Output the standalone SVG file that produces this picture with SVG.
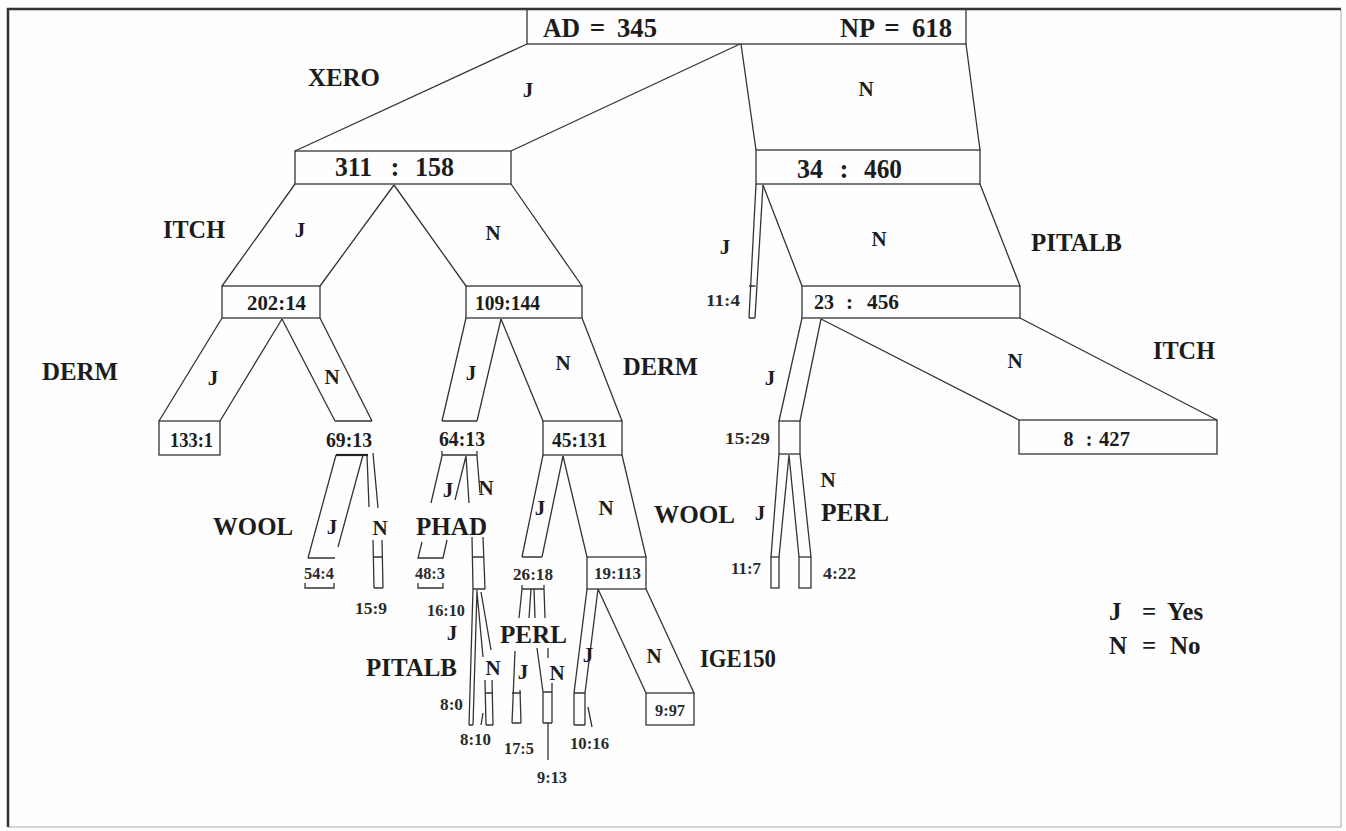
<svg xmlns="http://www.w3.org/2000/svg" width="1346" height="831" viewBox="0 0 1346 831">
<style>
.bg{fill:#fefefe}
.frame{stroke:#333;stroke-width:2.5;fill:none}
.frame2{stroke:#c8c8c8;stroke-width:1.5;fill:none}
.box{fill:none;stroke:#333;stroke-width:1.3}
.ln{fill:none;stroke:#333;stroke-width:1.3}
.thk{fill:none;stroke:#222;stroke-width:2.2}
text{font-family:"Liberation Serif","Times New Roman",serif;font-weight:bold;fill:#1c1c1c;text-anchor:middle}
.attr{font-size:25px}
.yn{font-size:21px}
.big{font-size:27px}
.cnt{font-size:21px}
.mid{font-size:21px}
.sm{font-size:16px;fill:#2a2a2a}
.leg{font-size:25px;text-anchor:start}
</style>
<rect class="bg" x="0" y="0" width="1346" height="831"/>
<g id="frame">
<path class="frame2" d="M1341,9 L1341,827 L8,827"/>
<path class="frame" d="M8,827 L8,9 L1341,9"/>
</g>
<g id="connectors">
<path class="ln" d="M527,44 L295,151 M740,44 L511,151"/>
<path class="ln" d="M741,44 L756,150 M966,44 L980,150"/>
<path class="ln" d="M295,184 L222,286 M394,185 L320,286 M394,185 L466,286 M511,184 L582,286"/>
<path class="ln" d="M756,184 L749,318 M763,185 L755,318 M749,286 L755.5,286 M749,318 L755,318"/>
<path class="ln" d="M763,185 L802,286 M980,184 L1020,286"/>
<path class="ln" d="M802,318 L779,421 M821,319 L800,421 M821,319 L1019,420 M1020,318 L1217,420"/>
<path class="ln" d="M779,454 L771,557 M789,455 L779,557 M789,455 L799,557 M800,454 L811,557"/>
<path class="ln" d="M222,318 L159,421 M282,319 L220,421 M282,319 L335,421 M320,318 L372,421 M335,421 L372,421"/>
<path class="thk" d="M336,455 L368,455"/>
<path class="ln" d="M336,455 L308,558 M363,455 L338,547 M367,455 L369,507 M373,453 L378,508"/>
<path class="ln" d="M466,318 L442,421 M501,319 L477,421 M501,319 L543,421 M582,318 L622,421 M442,421 L477,421"/>
<path class="ln" d="M442,455 L477,455 M442,451 L442,456 M477,451 L477,456 M442,456 L431,503 M466,456 L455,500 M466,456 L469,503 M477,456 L480,493"/>
<path class="ln" d="M543,455 L522,557 M563,456 L542,557 M522,557 L542,557 M563,456 L587,557 M622,455 L646,557"/>
<path class="ln" d="M473,589 L469,725 M477,590 L473,725 M469,725 L473,725 M477,592 L483,657 M481,592 L491,650 M483,713 L481,725"/>
<path class="ln" d="M522,589 L544,589 M522,585 L522,589 M544,585 L544,589 M522,589 L519,618 M531,589 L529,618 M534,589 L535,618 M544,589 L545,618"/>
<path class="ln" d="M515,651 L512,723 M520,690 L521,723 M537,648 L543,692 M548,648 L548,658 M548,723 L548,760"/>
<path class="ln" d="M587,589 L574,693 M598,589 L585,693 M588,707 L592,727 M598,589 L646,693 M646,589 L694,693"/>
</g>
<g id="node-root">
<rect class="box" x="527" y="9" width="439" height="35"/>
<text class="big" x="561.5" y="37" textLength="37" lengthAdjust="spacingAndGlyphs">AD</text>
<text class="big" x="597.5" y="37">=</text>
<text class="big" x="637" y="37" textLength="40" lengthAdjust="spacingAndGlyphs">345</text>
<text class="big" x="857.5" y="37" textLength="35" lengthAdjust="spacingAndGlyphs">NP</text>
<text class="big" x="892" y="37">=</text>
<text class="big" x="932" y="37" textLength="40" lengthAdjust="spacingAndGlyphs">618</text>
</g>
<g id="node-311-158">
<rect class="box" x="295" y="151" width="216" height="33"/>
<text class="big" x="353.5" y="176" textLength="37" lengthAdjust="spacingAndGlyphs">311</text>
<text class="big" x="395" y="176">:</text>
<text class="big" x="434.5" y="176" textLength="39" lengthAdjust="spacingAndGlyphs">158</text>
</g>
<g id="node-34-460">
<rect class="box" x="756" y="150" width="224" height="34"/>
<text class="big" x="810" y="177.5" textLength="26" lengthAdjust="spacingAndGlyphs">34</text>
<text class="big" x="844" y="177.5">:</text>
<text class="big" x="883" y="177.5" textLength="38" lengthAdjust="spacingAndGlyphs">460</text>
</g>
<g id="node-202-14">
<rect class="box" x="222" y="286" width="98" height="32"/>
<text class="cnt" x="276.5" y="310" textLength="59" lengthAdjust="spacingAndGlyphs">202:14</text>
</g>
<g id="node-109-144">
<rect class="box" x="466" y="286" width="116" height="32"/>
<text class="cnt" x="507.5" y="310" textLength="65" lengthAdjust="spacingAndGlyphs">109:144</text>
</g>
<g id="node-11-4">
<text class="sm" x="723" y="305.5" textLength="34" lengthAdjust="spacingAndGlyphs">11:4</text>
</g>
<g id="node-23-456">
<rect class="box" x="802" y="286" width="218" height="32"/>
<text class="mid" x="824" y="309" textLength="20" lengthAdjust="spacingAndGlyphs">23</text>
<text class="mid" x="849.5" y="309">:</text>
<text class="mid" x="883" y="309" textLength="32" lengthAdjust="spacingAndGlyphs">456</text>
</g>
<g id="node-133-1">
<rect class="box" x="159" y="421" width="61" height="34"/>
<text class="cnt" x="191.5" y="447" textLength="43" lengthAdjust="spacingAndGlyphs">133:1</text>
</g>
<g id="node-69-13">
<text class="cnt" x="349" y="447" textLength="46" lengthAdjust="spacingAndGlyphs">69:13</text>
</g>
<g id="node-64-13">
<text class="cnt" x="462" y="446" textLength="46" lengthAdjust="spacingAndGlyphs">64:13</text>
</g>
<g id="node-45-131">
<rect class="box" x="543" y="421" width="79" height="34"/>
<text class="cnt" x="579.5" y="447" textLength="55" lengthAdjust="spacingAndGlyphs">45:131</text>
</g>
<g id="node-15-29">
<rect class="box" x="779" y="421" width="21" height="33"/>
<text class="sm" x="747.5" y="443.5" textLength="45" lengthAdjust="spacingAndGlyphs">15:29</text>
</g>
<g id="node-8-427">
<rect class="box" x="1019" y="420" width="198" height="34"/>
<text class="mid" style="font-size:20px" x="1068.5" y="446">8</text>
<text class="mid" style="font-size:20px" x="1089" y="446">:</text>
<text class="mid" style="font-size:20px" x="1114.5" y="446" textLength="31" lengthAdjust="spacingAndGlyphs">427</text>
</g>
<g id="node-11-7">
<rect class="box" x="771" y="557" width="8" height="31"/>
<text class="sm" x="746" y="573.5" textLength="30" lengthAdjust="spacingAndGlyphs">11:7</text>
</g>
<g id="node-4-22">
<rect class="box" x="799" y="557" width="12" height="31"/>
<text class="sm" x="839.5" y="578.5" textLength="33" lengthAdjust="spacingAndGlyphs">4:22</text>
</g>
<g id="node-54-4">
<path class="ln" d="M308,558 L335,558 M305,583 L305,588 L334,588 L334,583"/>
<text class="sm" x="319" y="578.5" textLength="30" lengthAdjust="spacingAndGlyphs">54:4</text>
</g>
<g id="node-15-9">
<path class="ln" d="M373,540 L374,588 M382,540 L383,588 M374,557 L383,557 M374,588 L383,588"/>
<text class="sm" x="371" y="613.5" textLength="32" lengthAdjust="spacingAndGlyphs">15:9</text>
</g>
<g id="node-48-3">
<path class="ln" d="M422,542 L418,558 L443,558 L447,540 M418,583 L418,588 L443,588 L443,583"/>
<text class="sm" x="430" y="578.5" textLength="30" lengthAdjust="spacingAndGlyphs">48:3</text>
</g>
<g id="node-16-10">
<path class="ln" d="M472,537 L473,589 M483,537 L485,589 M473,557 L484,557 M473,589 L485,589"/>
<text class="sm" x="446" y="615.5" textLength="38" lengthAdjust="spacingAndGlyphs">16:10</text>
</g>
<g id="node-26-18">
<text class="sm" x="533" y="579.5" textLength="40" lengthAdjust="spacingAndGlyphs">26:18</text>
</g>
<g id="node-19-113">
<rect class="box" x="587" y="557" width="59" height="32"/>
<text class="sm" x="617.5" y="578.5" textLength="47" lengthAdjust="spacingAndGlyphs">19:113</text>
</g>
<g id="node-8-0">
<text class="sm" x="451.5" y="709.5" textLength="23" lengthAdjust="spacingAndGlyphs">8:0</text>
</g>
<g id="node-8-10">
<path class="ln" d="M485,680 L486,725 M492,680 L493,725 M486,693 L493,693 M486,725 L493,725"/>
<text class="sm" x="475.5" y="744.5" textLength="31" lengthAdjust="spacingAndGlyphs">8:10</text>
</g>
<g id="node-17-5">
<path class="ln" d="M512,693 L521,693 M512,723 L521,723"/>
<text class="sm" x="519" y="753.5" textLength="30" lengthAdjust="spacingAndGlyphs">17:5</text>
</g>
<g id="node-9-13">
<path class="ln" d="M543,692 L552,692 M552,683 L552,723 M543,692 L543,723 M543,723 L552,723"/>
<text class="sm" x="552" y="782.5" textLength="30" lengthAdjust="spacingAndGlyphs">9:13</text>
</g>
<g id="node-10-16">
<path class="ln" d="M574,693 L585,693 M574,693 L574,725 M585,693 L585,725 M574,725 L585,725"/>
<text class="sm" x="589.5" y="748.5" textLength="39" lengthAdjust="spacingAndGlyphs">10:16</text>
</g>
<g id="node-9-97">
<rect class="box" x="646" y="693" width="48" height="32"/>
<text class="sm" x="670" y="715.5" textLength="30" lengthAdjust="spacingAndGlyphs">9:97</text>
</g>
<g id="labels">
<text class="attr" x="344" y="86" textLength="72" lengthAdjust="spacingAndGlyphs">XERO</text>
<text class="attr" x="194" y="238" textLength="62" lengthAdjust="spacingAndGlyphs">ITCH</text>
<text class="attr" x="1076.5" y="251" textLength="91" lengthAdjust="spacingAndGlyphs">PITALB</text>
<text class="attr" x="80" y="380" textLength="76" lengthAdjust="spacingAndGlyphs">DERM</text>
<text class="attr" x="660.5" y="375" textLength="75" lengthAdjust="spacingAndGlyphs">DERM</text>
<text class="attr" x="1184" y="359" textLength="62" lengthAdjust="spacingAndGlyphs">ITCH</text>
<text class="attr" x="694.5" y="523" textLength="81" lengthAdjust="spacingAndGlyphs">WOOL</text>
<text class="attr" x="855" y="521" textLength="68" lengthAdjust="spacingAndGlyphs">PERL</text>
<text class="attr" x="253" y="535" textLength="80" lengthAdjust="spacingAndGlyphs">WOOL</text>
<text class="attr" x="451.5" y="535" textLength="71" lengthAdjust="spacingAndGlyphs">PHAD</text>
<text class="attr" x="533.5" y="643" textLength="67" lengthAdjust="spacingAndGlyphs">PERL</text>
<text class="attr" x="738" y="667" textLength="76" lengthAdjust="spacingAndGlyphs">IGE150</text>
<text class="attr" x="411.5" y="676" textLength="91" lengthAdjust="spacingAndGlyphs">PITALB</text>
<text class="yn" x="528" y="97">J</text>
<text class="yn" x="866" y="96">N</text>
<text class="yn" x="300" y="237">J</text>
<text class="yn" x="493" y="240">N</text>
<text class="yn" x="725" y="254">J</text>
<text class="yn" x="879" y="246">N</text>
<text class="yn" x="213" y="385">J</text>
<text class="yn" x="332" y="384">N</text>
<text class="yn" x="471" y="380">J</text>
<text class="yn" x="563" y="370">N</text>
<text class="yn" x="770" y="385">J</text>
<text class="yn" x="1015" y="368">N</text>
<text class="yn" x="448" y="497">J</text>
<text class="yn" x="486" y="495">N</text>
<text class="yn" x="828" y="487">N</text>
<text class="yn" x="540" y="515">J</text>
<text class="yn" x="606" y="515">N</text>
<text class="yn" x="760" y="520">J</text>
<text class="yn" x="332" y="534">J</text>
<text class="yn" x="380" y="535">N</text>
<text class="yn" x="452" y="640">J</text>
<text class="yn" x="588" y="662">J</text>
<text class="yn" x="654" y="663">N</text>
<text class="yn" x="493" y="675">N</text>
<text class="yn" x="523" y="679">J</text>
<text class="yn" x="557" y="680">N</text>
</g>
<g id="legend">
<text class="leg" x="1109" y="620">J</text>
<text class="leg" x="1142" y="620">=</text>
<text class="leg" x="1167" y="620">Yes</text>
<text class="leg" x="1109" y="654">N</text>
<text class="leg" x="1142" y="654">=</text>
<text class="leg" x="1170" y="654">No</text>
</g>
</svg>
